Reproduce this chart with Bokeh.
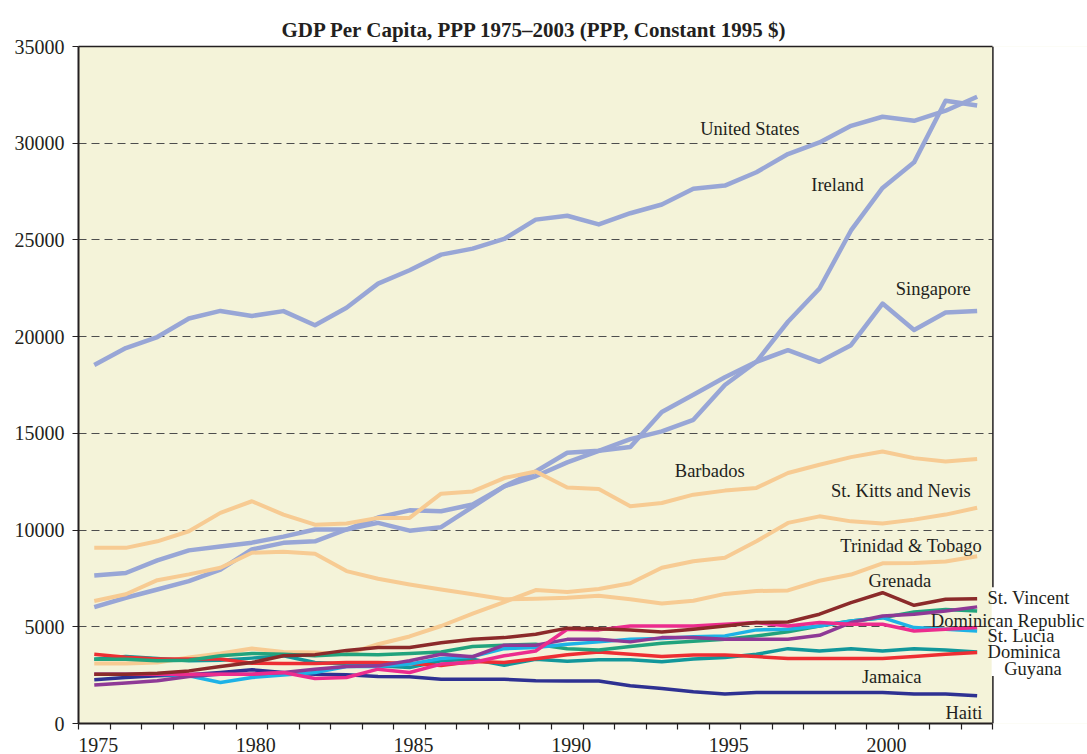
from bokeh.plotting import figure
from bokeh.models import Range1d, FixedTicker, LinearAxis, Label, BoxAnnotation, Span
from bokeh.embed import file_html
from bokeh.resources import INLINE

years = list(range(1975, 2004))

united_states = [18530, 19410, 19980, 20940, 21330, 21070, 21320, 20590, 21490, 22740,
                 23430, 24240, 24550, 25050, 26050, 26250, 25800, 26380, 26830, 27650,
                 27810, 28500, 29440, 30040, 30900, 31370, 31160, 31680, 32400]
ireland = [7650, 7780, 8430, 8950, 9150, 9350, 9660, 10030, 10030, 10650,
           11020, 10970, 11320, 12260, 12780, 13500, 14100, 14700, 15100, 15700,
           17500, 18700, 20770, 22490, 25490, 27690, 29010, 32200, 31950]
singapore = [6020, 6500, 6930, 7360, 7950, 9000, 9340, 9420, 10030, 10370,
             9970, 10150, 11200, 12260, 13030, 14000, 14100, 14300, 16100, 17000,
             17900, 18700, 19300, 18700, 19560, 21710, 20340, 21250, 21330]
barbados = [9080, 9080, 9420, 9940, 10890, 11490, 10800, 10280, 10340, 10630,
            10630, 11880, 12000, 12690, 13030, 12200, 12120, 11230, 11400, 11830,
            12040, 12180, 12950, 13380, 13770, 14060, 13720, 13550, 13670]
st_kitts = [3100, 3100, 3150, 3410, 3620, 3880, 3700, 3670, 3580, 4100,
            4500, 5040, 5680, 6280, 6900, 6800, 6950, 7250, 8050, 8390,
            8570, 9420, 10370, 10710, 10450, 10340, 10540, 10800, 11150]
trinidad = [6330, 6680, 7410, 7710, 8050, 8830, 8880, 8770, 7880, 7480,
            7190, 6930, 6680, 6420, 6450, 6500, 6600, 6420, 6200, 6350,
            6700, 6850, 6880, 7380, 7700, 8280, 8300, 8380, 8650]
grenada = [2550, 2550, 2600, 2720, 2950, 3150, 3500, 3560, 3780, 3930,
           3930, 4180, 4350, 4440, 4610, 4930, 4900, 4840, 4730, 4870,
           5040, 5220, 5250, 5650, 6250, 6760, 6110, 6420, 6450]
st_vincent = [3325, 3325, 3240, 3270, 3500, 3620, 3580, 3500, 3580, 3550,
              3620, 3700, 3980, 4050, 4100, 3870, 3800, 3980, 4150, 4250,
              4350, 4530, 4740, 5040, 5300, 5470, 5770, 5900, 5820]
dominican_republic = [1985, 2090, 2210, 2430, 2550, 2550, 2640, 2810, 2950, 2980,
                      3240, 3580, 3450, 4050, 4050, 4350, 4350, 4220, 4440, 4440,
                      4350, 4350, 4350, 4560, 5220, 5560, 5650, 5820, 6030]
st_lucia = [2550, 2550, 2550, 2550, 2550, 2550, 2640, 2330, 2380, 2810,
            2640, 3070, 3150, 3500, 3750, 4870, 4840, 5040, 5040, 5040,
            5130, 5220, 5040, 5220, 5130, 5130, 4780, 4870, 4960]
dominica = [2550, 2550, 2550, 2470, 2120, 2380, 2510, 2640, 2950, 2950,
            3070, 3360, 3460, 3870, 3930, 4100, 4220, 4350, 4390, 4490,
            4530, 4840, 4870, 5040, 5300, 5470, 4960, 4870, 4780]
guyana = [3325, 3460, 3360, 3240, 3270, 3380, 3500, 3150, 3070, 2980,
          2890, 3240, 3320, 3010, 3320, 3220, 3290, 3290, 3190, 3330,
          3410, 3580, 3870, 3750, 3870, 3750, 3870, 3800, 3700]
jamaica = [3580, 3420, 3330, 3330, 3330, 3120, 3100, 3100, 3150, 3150,
           3100, 3000, 3200, 3150, 3350, 3550, 3700, 3580, 3460, 3540,
           3540, 3460, 3360, 3360, 3360, 3360, 3460, 3580, 3670]
haiti = [2260, 2380, 2465, 2520, 2640, 2780, 2640, 2550, 2520, 2430,
         2420, 2290, 2290, 2290, 2210, 2200, 2200, 1950, 1810, 1640,
         1520, 1600, 1600, 1600, 1600, 1600, 1520, 1520, 1430]

y_ticks = [0, 5000, 10000, 15000, 20000, 25000, 30000, 35000]
x_label_years = [1975, 1980, 1985, 1990, 1995, 2000]

TITLE = "GDP Per Capita, PPP 1975\u20132003 (PPP, Constant 1995 $)"
INK = "#231F20"
FONT = "Liberation Serif"
BLUE = "#98A6D6"
PEACH = "#F7CB93"
CREAM = "#F4F3D9"

series = [
    (united_states, BLUE, 4.5),
    (ireland, BLUE, 4.5),
    (singapore, BLUE, 4.5),
    (barbados, PEACH, 4),
    (st_kitts, PEACH, 4),
    (trinidad, PEACH, 4),
    (haiti, "#2E3192", 3.5),
    (guyana, "#12979B", 3.5),
    (jamaica, "#ED2E33", 3.5),
    (st_vincent, "#22A37D", 3.5),
    (dominica, "#1DB2E6", 3.5),
    (dominican_republic, "#8E3996", 3.5),
    (st_lucia, "#EC2C8E", 3.5),
    (grenada, "#8B2A2A", 3.5),
]

X0, X1 = 1974.5, 2003.5          # the plotted period (frame of the chart)
X_VIEW_END = 2006.5              # extra room on the right for the end labels

p = figure(width=1087, height=754,
           x_range=Range1d(X0, X_VIEW_END), y_range=Range1d(0, 35000),
           output_backend="svg", toolbar_location=None,
           min_border_left=78, min_border_right=0,
           min_border_top=46, min_border_bottom=30,
           background_fill_color=CREAM, border_fill_color="white",
           outline_line_color=None, title=TITLE)

p.title.text_font = FONT
p.title.text_font_size = "21px"
p.title.text_font_style = "bold"
p.title.text_color = INK
p.title.align = "left"
p.title.offset = 203
p.title.standoff = 10

# x axis: minor ticks on year boundaries, labels at period starts
major = [y + 0.125 for y in x_label_years]
minor = [y + 0.5 for y in range(1974, 2004)]
p.xaxis.ticker = FixedTicker(ticks=major, minor_ticks=minor)
p.xaxis.major_label_overrides = {t: str(y) for t, y in zip(major, x_label_years)}
p.xaxis.bounds = (X0, X1)
p.xaxis.major_tick_out = 0
p.xaxis.major_tick_in = 0
p.xaxis.minor_tick_out = 6
p.xaxis.minor_tick_in = 0
p.xaxis.minor_tick_line_color = INK
p.xaxis.minor_tick_line_width = 1.2
p.xaxis.major_label_standoff = 8

p.yaxis.ticker = FixedTicker(ticks=y_ticks)
p.yaxis.major_tick_out = 6
p.yaxis.major_tick_in = 0
p.yaxis.minor_tick_line_color = None
p.yaxis.major_label_standoff = 8
p.yaxis.major_tick_line_color = INK
p.yaxis.major_tick_line_width = 1.2

for ax in (p.xaxis[0], p.yaxis[0]):
    ax.axis_line_color = INK
    ax.axis_line_width = 2
    ax.major_label_text_font = FONT
    ax.major_label_text_font_size = "20px"
    ax.major_label_text_color = INK

top_axis = LinearAxis(ticker=FixedTicker(ticks=[]), bounds=(X0, X1),
                      major_tick_out=0, major_tick_in=0, minor_tick_out=0, minor_tick_in=0,
                      major_label_standoff=0, axis_line_color=INK, axis_line_width=1.5)
p.add_layout(top_axis, "above")

p.xgrid.grid_line_color = None
p.ygrid.grid_line_color = "#4D4D4D"
p.ygrid.grid_line_dash = "8 5"
p.ygrid.grid_line_width = 1

# white margin to the right of the chart frame (hides cream + gridlines there)
p.add_layout(BoxAnnotation(left=X1, right=X_VIEW_END + 1, bottom=-1000, top=36000,
                           fill_color="white", fill_alpha=1.0, line_color=None,
                           level="underlay"))

for vals, color, w in series:
    p.line(years, vals, line_color=color, line_width=w, line_join="round")

# right frame edge
p.add_layout(Span(location=X1, dimension="height", line_color=INK, line_width=1.5))
# white patch behind the right-hand labels (interrupts the frame edge there)
p.add_layout(BoxAnnotation(left=X1 - 0.04, right=X_VIEW_END + 1, bottom=2450, top=7040,
                           fill_color="white", fill_alpha=1.0, line_color=None))

labels = [
    ("United States", 1995.79, 30740, "center"),
    ("Ireland", 1998.57, 27840, "center"),
    ("Singapore", 2001.61, 22440, "center"),
    ("Barbados", 1994.52, 13040, "center"),
    ("St. Kitts and Nevis", 2000.58, 12010, "center"),
    ("Trinidad & Tobago", 2000.91, 9180, "center"),
    ("Grenada", 2000.55, 7370, "center"),
    ("Jamaica", 2000.29, 2390, "center"),
    ("Haiti", 2003.17, 530, "right"),
    ("St. Vincent", 2003.33, 6510, "left"),
    ("Dominican Republic", 2001.53, 5310, "left"),
    ("St. Lucia", 2003.33, 4540, "left"),
    ("Dominica", 2003.33, 3710, "left"),
    ("Guyana", 2003.86, 2820, "left"),
]
for text, x, y, align in labels:
    p.add_layout(Label(x=x, y=y, text=text, text_font=FONT, text_font_size="18.5px",
                       text_color=INK, text_align=align, text_baseline="alphabetic"))

open("out.html", "w").write(file_html(p, INLINE))
